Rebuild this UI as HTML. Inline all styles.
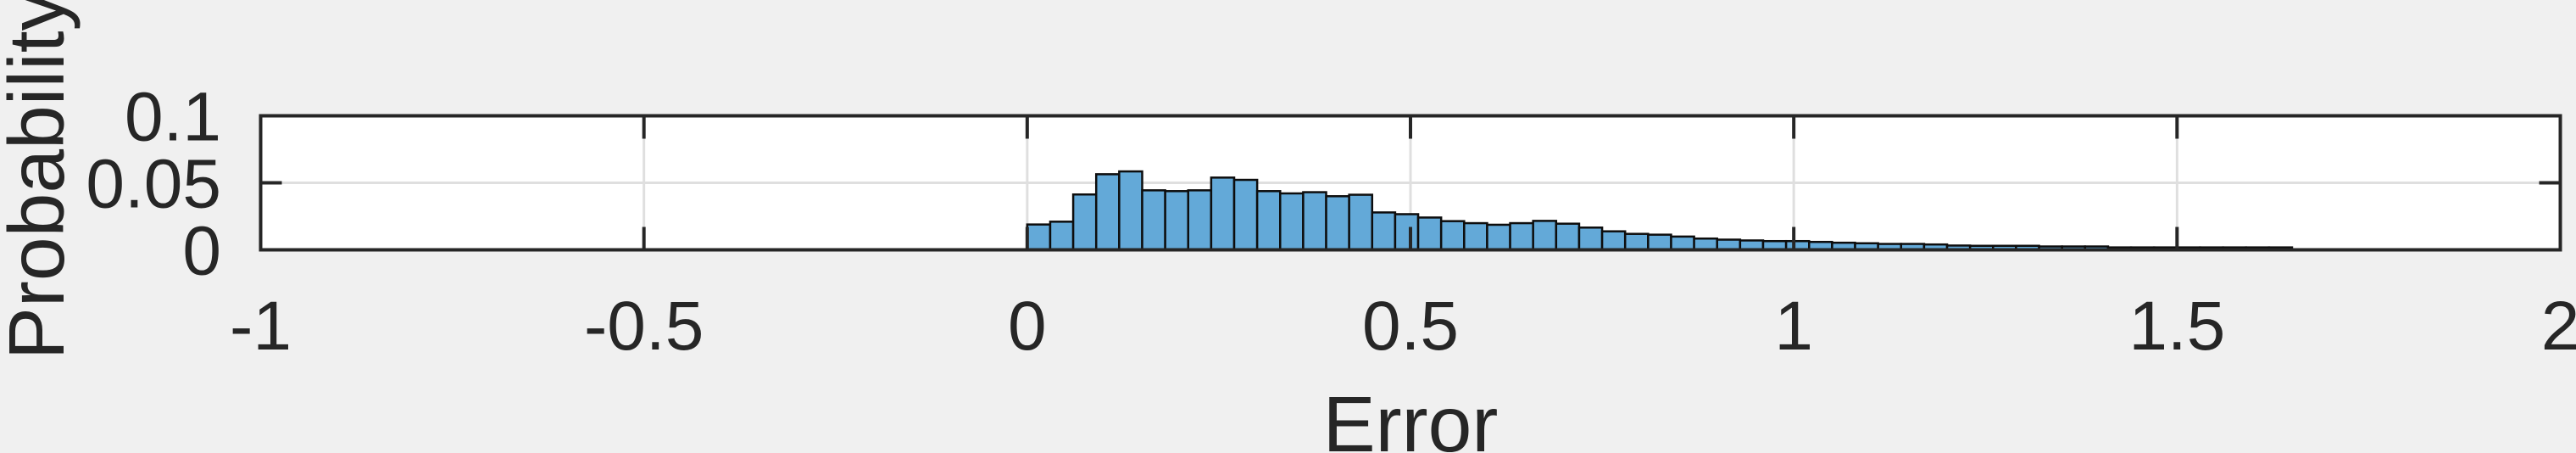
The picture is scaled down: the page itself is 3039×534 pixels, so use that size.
<!DOCTYPE html>
<html><head><meta charset="utf-8"><style>
html,body{margin:0;padding:0;background:#f0f0f0;}
svg{display:block;font-family:"Liberation Sans",Arial,sans-serif;}
</style></head><body>
<svg id="chart" width="3039" height="534" viewBox="0 0 3039 534">
<rect x="0" y="0" width="3039" height="534" fill="#f0f0f0"/>
<rect x="307.5" y="136.5" width="2713" height="158" fill="#ffffff"/>
<g id="grid"></g>
<g id="bars"></g>
<g id="axes"></g>
<text x="0" y="0" transform="translate(75,207) rotate(-90)" text-anchor="middle" font-size="93" fill="#262626">Probability</text>
<text x="1664" y="532" text-anchor="middle" font-size="93" fill="#262626">Error</text>
</svg>
<script>
const binEdgesStart = [0.00,0.03,0.06,0.09,0.12,0.15,0.18,0.21,0.24,0.27,0.30,0.33,0.36,0.39,0.42,0.45,0.48,0.51,0.54,0.57,0.60,0.63,0.66,0.69,0.72,0.75,0.78,0.81,0.84,0.87,0.90,0.93,0.96,0.99,1.02,1.05,1.08,1.11,1.14,1.17,1.20,1.23,1.26,1.29,1.32,1.35,1.38,1.41,1.44,1.47,1.50,1.53,1.56,1.59,1.62];
const probabilities = [0.0189,0.0210,0.0413,0.0564,0.0585,0.0444,0.0438,0.0444,0.0539,0.0522,0.0438,0.0421,0.0430,0.0400,0.0411,0.0279,0.0266,0.0241,0.0214,0.0199,0.0187,0.0199,0.0216,0.0195,0.0166,0.0138,0.0119,0.0113,0.0099,0.0084,0.0076,0.0070,0.0065,0.0065,0.0059,0.0053,0.0049,0.0044,0.0044,0.0040,0.0032,0.0030,0.0030,0.0030,0.0025,0.0025,0.0025,0.0018,0.0018,0.0018,0.0018,0.0018,0.0018,0.0018,0.0018];
const binWidth = 0.03;
const xTicks = [-1,-0.5,0,0.5,1,1.5,2];
const xTickLabels = ["-1","-0.5","0","0.5","1","1.5","2"];
const yTicks = [0,0.05,0.1];
const yTickLabels = ["0","0.05","0.1"];

const L=307.5,R=3020.5,T=136.5,B=294.5;
const xMin=-1,xMax=2,yMin=0,yMax=0.1;
function xs(v){return L+(v-xMin)/(xMax-xMin)*(R-L);}
function ys(v){return B-(v-yMin)/(yMax-yMin)*(B-T);}
const NS="http://www.w3.org/2000/svg";
function mk(tag,attrs,parent){const e=document.createElementNS(NS,tag);for(const k in attrs)e.setAttribute(k,attrs[k]);parent.appendChild(e);return e;}
const grid=document.getElementById('grid'),bars=document.getElementById('bars'),axes=document.getElementById('axes'),svg=document.getElementById('chart');

xTicks.forEach((t,i)=>{
  if(t>xMin&&t<xMax){
    const g=mk('line',{x1:xs(t),x2:xs(t),y1:T,y2:B,stroke:'#dfdfdf','stroke-width':3},grid);
    
    
  }
});
yTicks.forEach((t,i)=>{
  if(t>yMin&&t<yMax){
    const g=mk('line',{x1:L,x2:R,y1:ys(t),y2:ys(t),stroke:'#dfdfdf','stroke-width':3},grid);
    
    
  }
});

probabilities.forEach((p,i)=>{
  const x0=xs(binEdgesStart[i]),x1=xs(binEdgesStart[i]+binWidth);
  const r=mk('rect',{x:x0,y:ys(p),width:x1-x0,height:ys(0)-ys(p),fill:'#63a9d8',stroke:'#0d0d0d','stroke-width':2.5},bars);
  
  
});

xTicks.forEach((t,i)=>{
  const x=xs(t);
  const a=mk('line',{x1:x,x2:x,y1:T,y2:T+27,stroke:'#262626','stroke-width':4},axes);
  
  
  const b=mk('line',{x1:x,x2:x,y1:B,y2:B-27,stroke:'#262626','stroke-width':4},axes);
  
  
  const tx=mk('text',{x:x,y:412,'text-anchor':'middle','font-size':82,fill:'#262626'},svg);
  tx.textContent=xTickLabels[i];
  
  
});
yTicks.forEach((t,i)=>{
  const y=ys(t);
  const a=mk('line',{x1:L,x2:L+25,y1:y,y2:y,stroke:'#262626','stroke-width':4},axes);
  
  
  const b=mk('line',{x1:R,x2:R-25,y1:y,y2:y,stroke:'#262626','stroke-width':4},axes);
  
  
  const tx=mk('text',{x:261,y:y+29,'text-anchor':'end','font-size':82,fill:'#262626'},svg);
  tx.textContent=yTickLabels[i];
  
  
});
const box=mk('rect',{x:L,y:T,width:R-L,height:B-T,fill:'none',stroke:'#262626','stroke-width':4},axes);


</script>
</body></html>
